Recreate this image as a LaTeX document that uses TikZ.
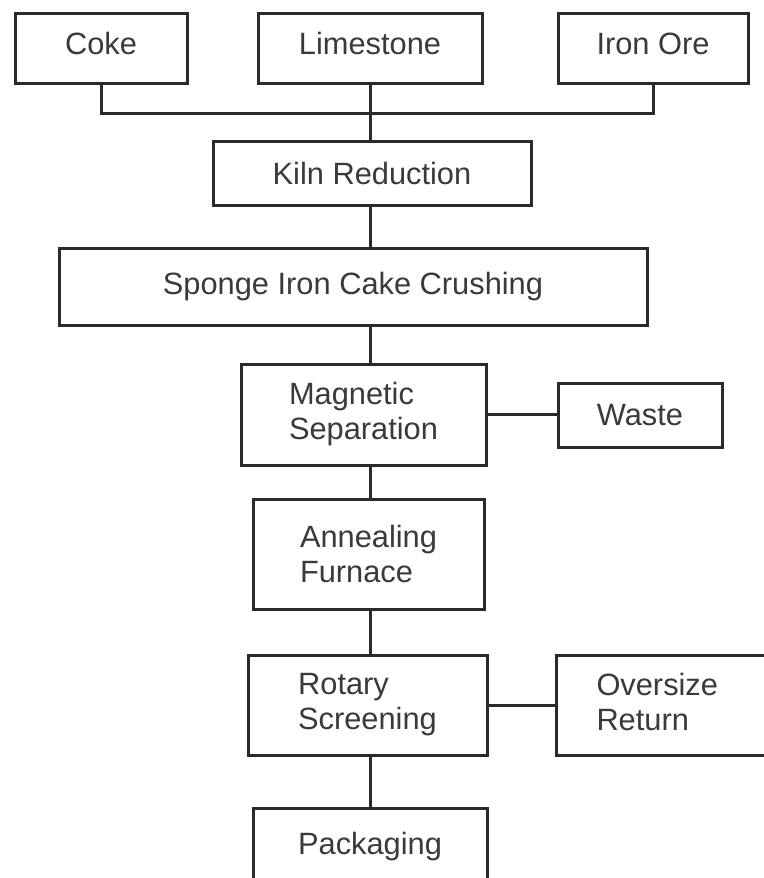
\documentclass[tikz,border=0pt]{standalone}
\usepackage{fontspec}
\setmainfont{Liberation Sans}
\definecolor{ink}{HTML}{2A2A2A}
\definecolor{txt}{HTML}{3A3A3A}
\begin{document}
\begin{tikzpicture}[x=1pt,y=-1pt,
  box/.style={draw=ink, line width=3pt, fill=white, inner sep=0pt, text=txt,
    font=\fontsize{30.8}{35}\selectfont, align=center},
  topbox/.style={box, minimum height=70pt, text height=22pt, text depth=10pt},
  link/.style={draw=ink, line width=3pt}]
\useasboundingbox (0,0) rectangle (763,878);
% top row
\node[topbox, minimum width=172pt] (coke) at (101,48) {Coke};
\node[topbox, minimum width=224pt] (lime) at (370,48) {Limestone};
\node[topbox, minimum width=190pt] (ore) at (653,48) {Iron Ore};
\coordinate (j) at (370,113);
% main chain
\node[box, minimum width=318pt, minimum height=64pt] (kiln) at (372,173) {Kiln Reduction};
\node[box, minimum width=588pt, minimum height=77pt] (sponge) at (353,286.5) {Sponge Iron Cake Crushing};
\node[box, align=left, minimum width=245pt, minimum height=101pt] (mag) at (363.5,414.5) {Magnetic\\Separation};
\node[box, minimum width=164pt, minimum height=64pt] (waste) at (640,415) {Waste};
\node[box, align=left, minimum width=231pt, minimum height=110pt] (anneal) at (368.5,554) {Annealing\\Furnace};
\node[box, align=left, minimum width=239pt, minimum height=100pt] (rotary) at (367.5,705) {Rotary\\Screening};
\node[box, anchor=west, align=left, inner xsep=40pt, text width=200pt, minimum height=100pt] (over) at (555,705) {Oversize\\Return\vphantom{g}};
\node[box, anchor=north, minimum width=234pt, inner ysep=24pt, text height=21.5pt, text depth=50pt] (pack) at (370,807) {Packaging};
% connectors
\draw[link] (coke.south) |- (j) -| (ore.south);
\draw[link] (lime.south) -- (kiln.north -| lime.south);
\draw[link] (kiln.south -| j) -- (sponge.north -| j);
\draw[link] (sponge.south -| j) -- (mag.north -| j);
\draw[link] (mag.south -| j) -- (anneal.north -| j);
\draw[link] (anneal.south -| j) -- (rotary.north -| j);
\draw[link] (rotary.south -| j) -- (pack.north -| j);
\draw[link] (mag.east) -- (mag.east -| waste.west);
\draw[link] (rotary.east) -- (over.west);
\end{tikzpicture}
\end{document}
